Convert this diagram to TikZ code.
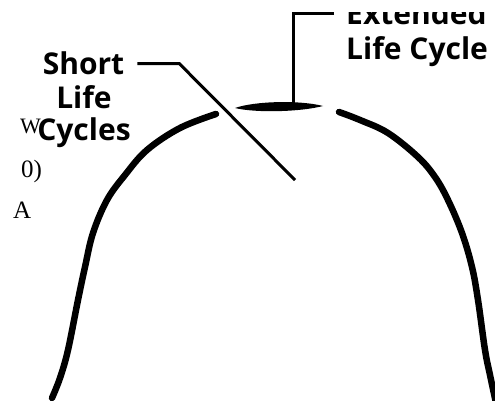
\documentclass[tikz,border=0pt]{standalone}
\usepackage{fontspec}
\newfontfamily\labelfont{Open Sans}
\newfontfamily\strayfont{Liberation Serif}
\usepackage{tikz}
\usetikzlibrary{calc,positioning}

\begin{document}
\begin{tikzpicture}[
    x=1pt, y=-1pt,
    every node/.style={inner sep=0pt},
    lbl/.style={font=\labelfont\bfseries\fontsize{30}{34}\selectfont},
    stray/.style={font=\strayfont\fontsize{25}{29}\selectfont, anchor=base west},
    lead/.style={line width=3pt, black},
    curve/.style={line width=6.5pt, line cap=round, black}
  ]
    \useasboundingbox (0,0) rectangle (495,401);
    \clip (0,12.5) rectangle (495,401);
    \node[stray, font=\strayfont\fontsize{22}{26}\selectfont] (w) at (20,133) {W};
    \node[stray] (zero) at (21,177) {0)};
    \node[stray] (a) at (13,218) {A};
    \node[lbl, anchor=base] (short) at (83.5,75) {Short};
    \node[lbl, anchor=base] (life) at (84,109) {Life};
    \node[lbl, anchor=base] (cycles) at (84,140) {Cycles};
    \node[lbl, anchor=base west] (ext) at (346,25) {Extended};
    \node[lbl, anchor=base west] (lifecycle) at (346,60) {Life Cycle};
    \coordinate (stip) at (295,180);
    \coordinate (etop) at (293,104);
    \draw[curve] plot[smooth, tension=0.6] coordinates {(52,398) (60,378) (68,350) (78,300) (85,267) (93,233) (107,200) (125,175) (147,150) (180,128) (216,114)};
    \fill (235,108) .. controls (255,101) and (300,100) .. (323,106) .. controls (300,112) and (255,113) .. (235,108);
    \draw[curve] plot[smooth, tension=0.6] coordinates {(339,112) (360,120) (388,133) (418,157) (435,177) (448,200) (462,233) (472,267) (478,300) (485,350) (490,375) (496,403)};
    \draw[lead] ([xshift=13pt]short.east) -- ++(42,0) -- (stip);
    \draw[lead] ([xshift=-12pt]ext.west) -| (etop);
  \end{tikzpicture}
\end{document}
